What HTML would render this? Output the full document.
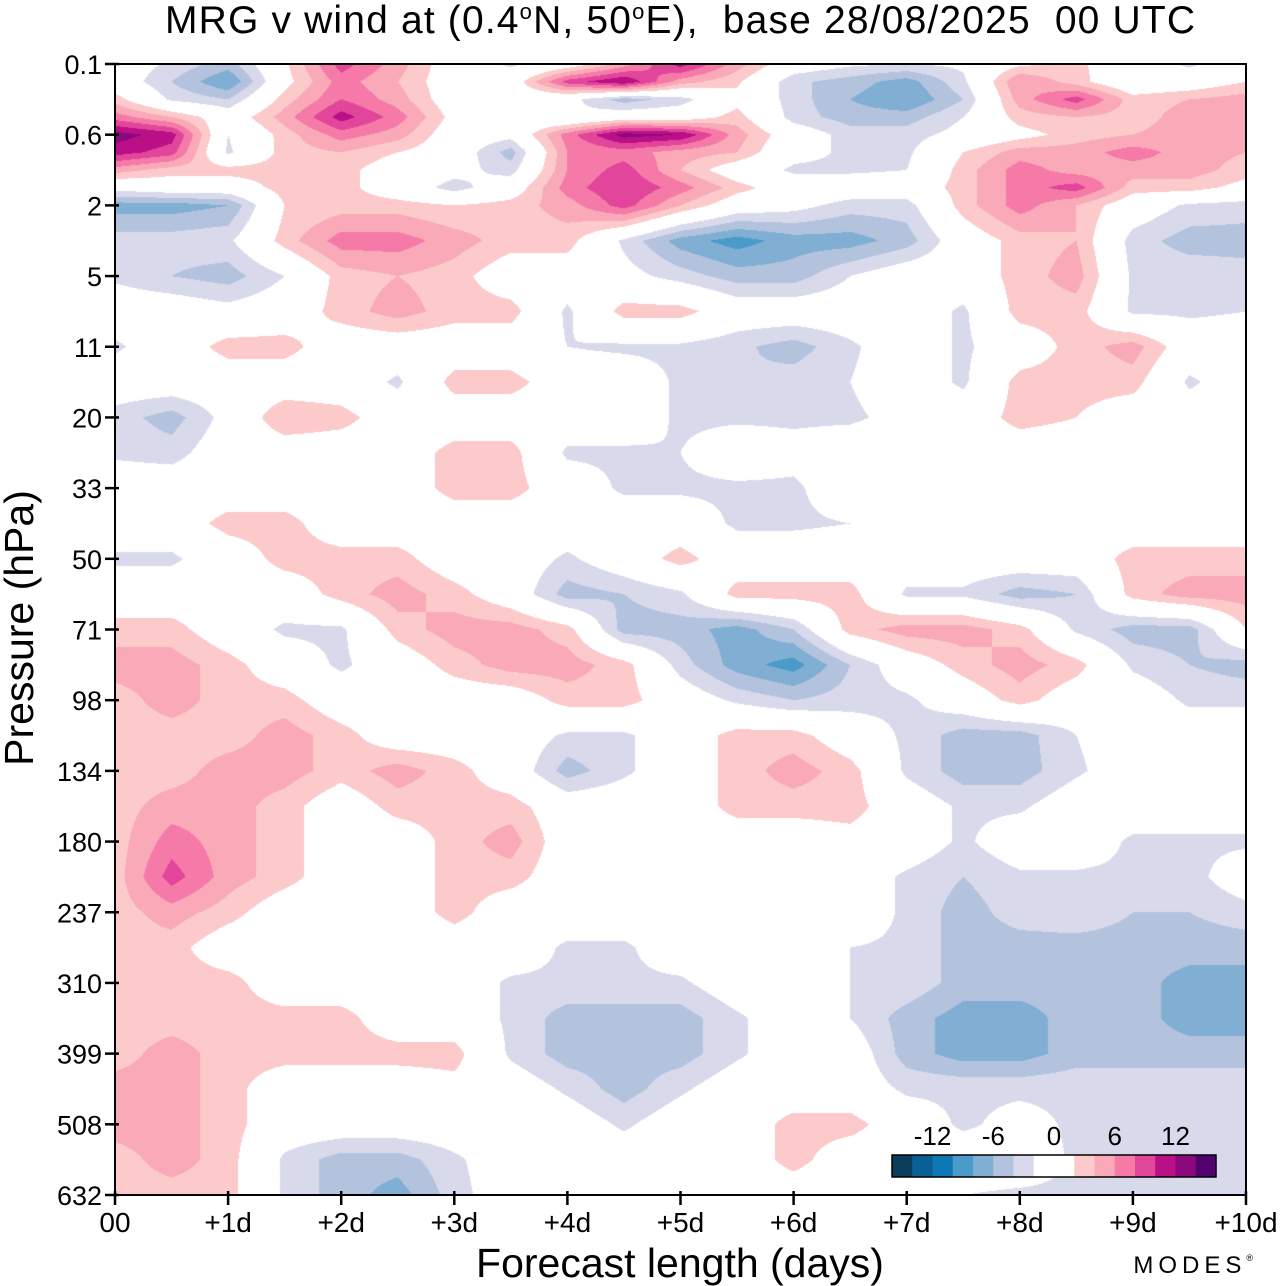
<!DOCTYPE html>
<html><head><meta charset="utf-8"><style>
html,body{margin:0;padding:0;background:#fff;}
#wrap{position:relative;width:1280px;height:1286px;overflow:hidden;}
canvas,svg{position:absolute;left:0;top:0;}
text{font-family:"Liberation Sans",Arial,sans-serif;fill:#000;}
</style></head><body>
<div id="wrap">
<canvas id="field" width="1280" height="1286"></canvas>
<svg id="ov" width="1280" height="1286"></svg>
</div>
<script>
// ---- data ----
const pressureLabels = ["0.1","0.6","2","5","11","20","33","50","71","98","134","180","237","310","399","508","632"];
const dayLabels = ["00","+1d","+2d","+3d","+4d","+5d","+6d","+7d","+8d","+9d","+10d"];
const levelValues = [-16,-14,-12,-10,-8,-6,-4,-2,0,2,4,6,8,10,12,14,16];
const levelColors = ["#0b3d5c","#0a5f95","#1077b5","#4a9bc9","#80afd3","#b3c3de","#d9d9ec","#ffffff","#ffffff","#fccacb","#f9a9b8","#f57aa8","#e2469b","#bb0f88","#8b097d","#520170"];
const colorbarLabels = [-12,-6,0,6,12];
// row positions in pressure-level index units; columns every 0.5 day
const rowLevels = [0,0.25,0.5,0.75,1,1.25,1.5,1.75,2,2.5,3,3.5,4,4.5,5,5.5,6,6.5,7,7.5,8,8.5,9,9.5,10,10.5,11,11.5,12,12.5,13,13.5,14,14.5,15,15.5,16];
const colDays = [0,0.5,1,1.5,2,2.5,3,3.5,4,4.5,5,5.5,6,6.5,7,7.5,8,8.5,9,9.5,10];
const vwind = [
[0,-2.5,-5,1.5,9,5,0,-2.5,0,5,11,5,0,-1.5,-2,-1.5,1.5,2.5,0,-2.5,0],
[0,-4,-8,1,7,4,0,0,9,12,5,2.5,-3.5,-5,-7,-2.5,6,3,-1,0,2],
[3,-2.5,-4,3,8,5,0,0,-1,-5,-3,1,-3,-6,-8,-4,5,9,3,4,5],
[7,4,0,5,11,7,1,0,-2,0,0,3,-3,-5,-5,-2,3,4,3,5,5],
[13,11,-2,3,7,5,0,-1,7,13,12,5,0,-3,-3,-1,1,3,4,5,5],
[11,9,-2.5,3,4,2,0,-5,6,7,5,4,-1,-2.5,-2.5,2,5,5,7,5,4],
[5,3,3,3,3,0,-1,-3,6,9,4,0,-2.5,-2.5,-2,3,7,5,5,5,3],
[-1,0,0,3,3,0,-3,0,7,10,7,3,0,0,0,3,7,9,3,3,1],
[-7,-7,-6,2,3,3,2,3,5,9,4,0,-1,-3,-3,3,7,4,0,-2.5,-3],
[-3,-3,-2.5,3,7,7,5,3,3,-2.5,-7,-9,-7,-7,-5,0,3,4,-3,-5,-5],
[-2.5,-4,-5,-2,3,4,3,0,0,-1,-3,-5,-5,-2,0,0,3,5,-2.5,-2.5,-3],
[0,0,-1,0,3,5,3,3,-2.5,3,3,0,0,0,0,-2.5,3,3,-2.5,-2.5,-2],
[-2.5,0,3,3,0,0,0,0,-2,-2.5,-2.5,-3.5,-5,-2.5,0,-2.5,0,3,5,0,0],
[0,0,0,0,0,-2.5,3,3,0,0,-2.5,-4,-3,-2,0,-2.5,3,3,3,-2.5,0],
[-3,-5,-1,4,3,0,0,0,0,0,-2.5,-2.5,-2.5,-2.5,-1,0,3,2,0,0,0],
[-2.5,-3,0,0,0,0,3,3,-2.5,-2.5,-2,0,-1,0,0,0,0,0,0,0,0],
[0,0,0,0,0,0,3,3,0,-2.5,-2.5,-2.5,-2.5,0,0,0,0,0,0,0,0],
[0,0,3,3,0,0,0,0,0,0,0,-2.5,-2.5,-2,0,0,0,0,0,0,0],
[-2.5,-2.5,0,3,3,3,0,0,-2.5,0,3,0,0,0,0,0,0,0,3,3,3],
[0,0,0,0,3,5,3,0,-5,-4,-2.5,3,3,3,-2.5,-2.5,-5,-4,3,5,5],
[3,3,0,-2.5,-2.5,3,5,5,3,-5,-5,-7,-4,3,5,5,3,-2.5,-5,-5,2],
[5,5,3,0,-2.5,0,3,5,5,3,-3,-7,-9,-4,0,3,5,3,-2.5,-4,-5],
[3,5,3,3,0,0,0,0,3,3,0,-2.5,-4,-3,-2.5,0,3,0,0,-2.5,-2.5],
[3,3,3,5,3,0,0,0,-2.5,-2.5,0,3,3,0,-2.5,-5,-5,-2,0,0,0],
[3,3,5,5,3,5,3,0,-5,-2.5,0,3,5,3,-2.5,-5,-5,-2.5,0,0,0],
[3,5,5,3,0,3,3,3,0,0,0,3,3,3,0,-2.5,-2.5,0,0,0,0],
[3,7,5,3,0,0,3,5,0,0,0,0,0,1,0,-2.5,0,0,-2.5,-2.5,-2.5],
[3,9,5,3,0,0,3,3,0,0,0,0,0,0,-2.5,-4,-2.5,-2.5,-2.5,-3,0],
[3,5,3,0,0,0,3,0,0,0,0,0,0,0,-2.5,-5,-3,-2.5,-4,-4,-3],
[3,3,0,0,0,0,0,0,-2.5,-2.5,0,0,0,-2,-2.5,-5,-5,-5,-5,-5,-5],
[3,3,3,0,0,0,0,-2.5,-2.5,-2.5,-2.5,0,0,-2,-2.5,-5,-5,-5,-5,-7,-7],
[3,3,3,3,3,0,0,-2.5,-5,-5,-5,-2.5,0,-2,-5,-7,-7,-5,-5,-7,-7],
[3,5,3,3,3,3,3,-2.5,-5,-5,-5,-2.5,0,0,-5,-7,-7,-5,-5,-5,-5],
[5,5,3,0,0,0,1,0,-2.5,-5,-2.5,0,0,0,-2.5,-2.5,-2.5,-2.5,-2.5,-2.5,-2.5],
[5,5,3,0,0,0,0,0,0,-2.5,0,0,3,3,0,-2.5,-1,-2.5,-2.5,-2.5,-2.5],
[3,5,3,-2.5,-5,-5,-2.5,0,0,0,0,0,3,0,0,0,0,-2.5,-2.5,-2.5,-2.5],
[3,3,3,-2.5,-5,-7,-3,0,0,0,0,0,0,0,0,-2,-2.5,-2.5,-2.5,-2.5,-2.5]
];
// ---- layout ----
const X0=115,X1=1246,Y0=64,Y1=1195;
const nLev = pressureLabels.length-1, nDay = dayLabels.length-1;
function xScale(d){return X0+(X1-X0)*d/nDay;}
function yScale(li){return Y0+(Y1-Y0)*li/nLev;}
function hex(c){return [parseInt(c.substr(1,2),16),parseInt(c.substr(3,2),16),parseInt(c.substr(5,2),16)];}
// ---- field ----
const cv=document.getElementById('field'), ctx=cv.getContext('2d');
const W=X1-X0, H=Y1-Y0;
const img=ctx.createImageData(W,H);
const rgbs=levelColors.map(hex);
function findIdx(arr,v){ let i=0; while(i<arr.length-2 && arr[i+1]<=v) i++; return i; }
for(let py=0;py<H;py++){
  const li=(py+0.5)/H*nLev;
  const r=findIdx(rowLevels,li);
  const ty=Math.min(1,Math.max(0,(li-rowLevels[r])/(rowLevels[r+1]-rowLevels[r])));
  for(let px=0;px<W;px++){
    const d=(px+0.5)/W*nDay;
    const c=findIdx(colDays,d);
    const tx=Math.min(1,Math.max(0,(d-colDays[c])/(colDays[c+1]-colDays[c])));
    const v=(vwind[r][c]*(1-tx)+vwind[r][c+1]*tx)*(1-ty)+(vwind[r+1][c]*(1-tx)+vwind[r+1][c+1]*tx)*ty;
    let k=0; if(v<levelValues[0]) k=0; else { k=levelColors.length-1; for(let j=0;j<levelColors.length;j++){ if(v<levelValues[j+1]){k=j;break;} } }
    const col=rgbs[k], o=(py*W+px)*4;
    img.data[o]=col[0];img.data[o+1]=col[1];img.data[o+2]=col[2];img.data[o+3]=255;
  }
}
ctx.putImageData(img,X0,Y0);
// ---- overlay ----
const NS='http://www.w3.org/2000/svg', svg=document.getElementById('ov');
function mk(tag,attrs,parent){const e=document.createElementNS(NS,tag);for(const k in attrs)e.setAttribute(k,attrs[k]);(parent||svg).appendChild(e);return e;}
const frame=mk('rect',{x:X0,y:Y0,width:W,height:H,fill:'none',stroke:'#000','stroke-width':2});


pressureLabels.forEach((lab,i)=>{
  const y=yScale(i);
  const t=mk('line',{x1:X0-10,x2:X0+4,y1:y,y2:y,stroke:'#000','stroke-width':2.5});
  
  
  const tx=mk('text',{x:X0-13,y:y+10,'font-size':27,'text-anchor':'end'});
  tx.textContent=lab;
  
  
});
dayLabels.forEach((lab,i)=>{
  const x=xScale(i);
  const t=mk('line',{x1:x,x2:x,y1:Y1-4,y2:Y1+10,stroke:'#000','stroke-width':2.5});
  
  
  const tx=mk('text',{x:x,y:1232,'font-size':28,'text-anchor':'middle'});
  tx.textContent=lab;
  
  
});
const title=mk('text',{x:165,y:33,'font-size':39,'text-anchor':'start',textLength:1030,lengthAdjust:'spacing'});
title.innerHTML='MRG v wind at (0.4<tspan dy="-14" font-size="22">o</tspan><tspan dy="14">N, 50</tspan><tspan dy="-14" font-size="22">o</tspan><tspan dy="14">E),  base 28/08/2025  00 UTC</tspan>';
title.setAttribute('xml:space','preserve');
title.style.whiteSpace='pre';


const xt=mk('text',{x:680,y:1277,'font-size':41,'text-anchor':'middle'});
xt.textContent='Forecast length (days)';


const yt=mk('text',{x:0,y:0,'font-size':41,'text-anchor':'middle',transform:'translate(33,628) rotate(-90)'});
yt.textContent='Pressure (hPa)';


const logo=mk('text',{x:1258,y:1273,'font-size':24,'text-anchor':'end','letter-spacing':'5',fill:'#555'});
logo.innerHTML='MODES<tspan font-size="9" dy="-12">®</tspan>';


// colorbar
const cbX=892, cbY=1155, cbW=324, cbH=22, nb=levelColors.length, bw=cbW/nb;
const cbg=mk('g',{});


levelColors.forEach((c,k)=>{
  const r=mk('rect',{x:cbX+k*bw,y:cbY,width:bw+0.5,height:cbH,fill:c},cbg);
  
  
});
mk('rect',{x:cbX,y:cbY,width:cbW,height:cbH,fill:'none',stroke:'#000','stroke-width':1.5},cbg);
colorbarLabels.forEach(v=>{
  const k=levelValues.indexOf(v);
  const t=mk('text',{x:cbX+k*bw,y:1145,'font-size':26,'text-anchor':'middle'},cbg);
  t.textContent=String(v);
  
  
});
</script>
</body></html>
